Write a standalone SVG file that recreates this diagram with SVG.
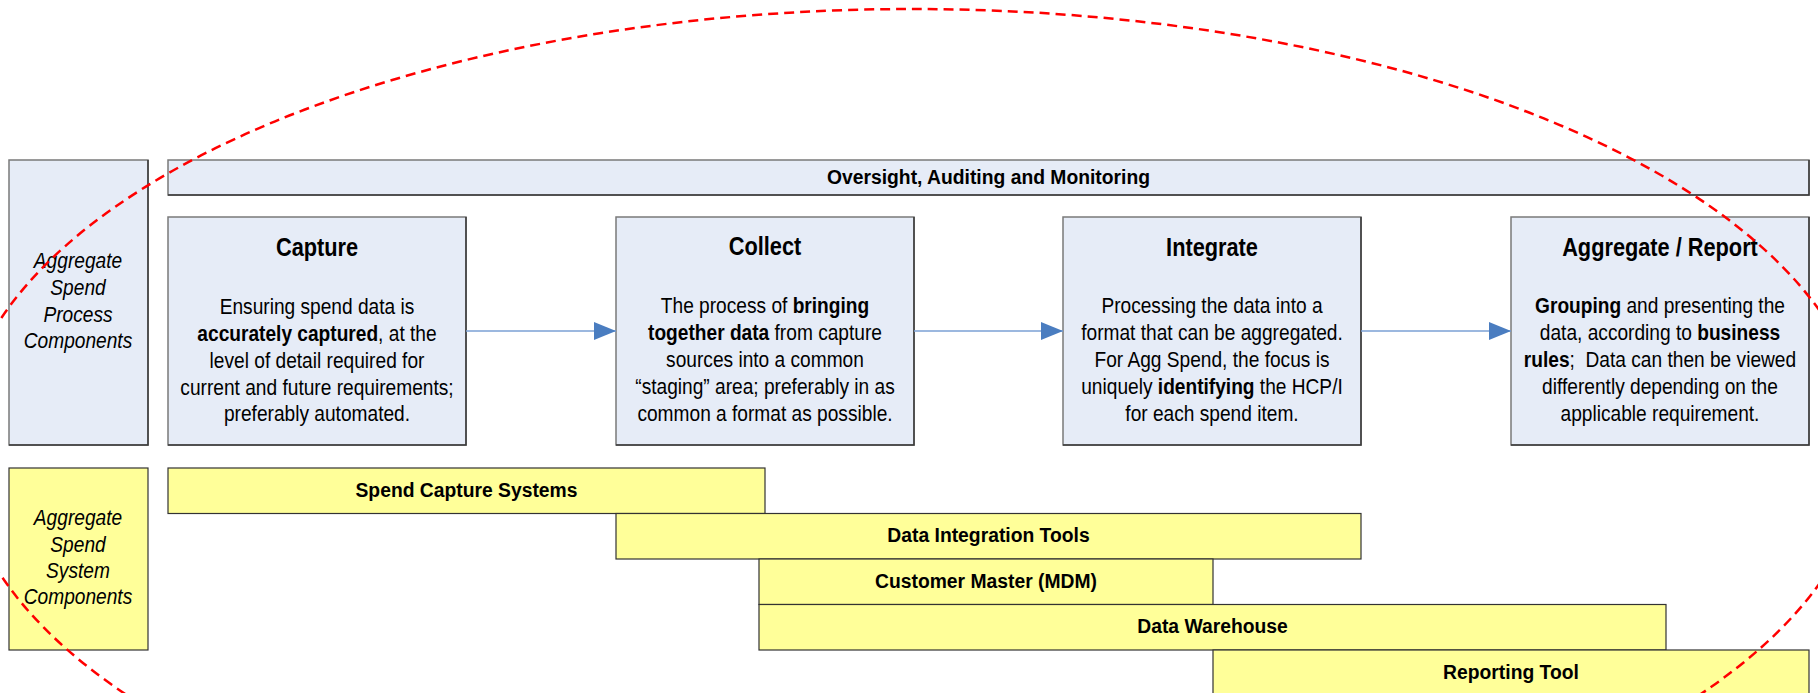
<svg xmlns="http://www.w3.org/2000/svg" width="1818" height="693" viewBox="0 0 1818 693">
<defs>
<style>
.blue{fill:#E6ECF7;stroke:#7A7A7A;stroke-width:1.5}
.edge{fill:none;stroke:#3A3A3A;stroke-width:1.5}
.yel{fill:#FFFF99;stroke:#333333;stroke-width:1.2}
text{font-family:"Liberation Sans",Arial,sans-serif;fill:#000;text-anchor:middle}
.title{font-size:25px;font-weight:bold}
.body{font-size:22px}
.lbl{font-size:22px;font-style:italic}
.bar{font-size:21px;font-weight:bold}
.b{font-weight:bold}
.conn{stroke:#7BA0D4;stroke-width:1.6;fill:none}
.ring{fill:none;stroke:#FF0000;stroke-width:2.5;stroke-dasharray:10 6}
</style>
<marker id="ah" markerWidth="22" markerHeight="18" refX="22" refY="9" orient="auto" markerUnits="userSpaceOnUse">
<path d="M0,0 L22,9 L0,18 Z" fill="#4A7DC0"/>
</marker>
</defs>
<rect width="1818" height="693" fill="#FFFFFF"/>

<g id="process-label">
<rect class="blue" x="9" y="160" width="139" height="285"/>
<path class="edge" d="M148,160 V445 H9"/>
<g transform="translate(78,0) scale(0.87,1)">
<text class="lbl" x="0" y="268">Aggregate</text>
<text class="lbl" x="0" y="295">Spend</text>
<text class="lbl" x="0" y="322">Process</text>
<text class="lbl" x="0" y="348">Components</text>
</g>
</g>

<g id="oversight">
<rect class="blue" x="168" y="160" width="1641" height="35"/>
<path class="edge" d="M1809,160 V195 H168"/>
<g transform="translate(988.5,0) scale(0.92,1)">
<text class="bar" x="0" y="184">Oversight, Auditing and Monitoring</text>
</g>
</g>

<g id="capture">
<rect class="blue" x="168" y="217" width="298" height="228"/>
<path class="edge" d="M466,217 V445 H168"/>
<g transform="translate(317,0) scale(0.87,1)">
<text class="title" x="0" y="256">Capture</text>
<text class="body" x="0" y="314">Ensuring spend data is</text>
<text class="body" x="0" y="341"><tspan class="b">accurately captured</tspan>, at the</text>
<text class="body" x="0" y="368">level of detail required for</text>
<text class="body" x="0" y="395">current and future requirements;</text>
<text class="body" x="0" y="421">preferably automated.</text>
</g>
</g>

<g id="collect">
<rect class="blue" x="616" y="217" width="298" height="228"/>
<path class="edge" d="M914,217 V445 H616"/>
<g transform="translate(765,0) scale(0.87,1)">
<text class="title" x="0" y="255">Collect</text>
<text class="body" x="0" y="313">The process of <tspan class="b">bringing</tspan></text>
<text class="body" x="0" y="340"><tspan class="b">together data</tspan> from capture</text>
<text class="body" x="0" y="367">sources into a common</text>
<text class="body" x="0" y="394">“staging” area; preferably in as</text>
<text class="body" x="0" y="421">common a format as possible.</text>
</g>
</g>

<g id="integrate">
<rect class="blue" x="1063" y="217" width="298" height="228"/>
<path class="edge" d="M1361,217 V445 H1063"/>
<g transform="translate(1212,0) scale(0.87,1)">
<text class="title" x="0" y="256">Integrate</text>
<text class="body" x="0" y="313">Processing the data into a</text>
<text class="body" x="0" y="340">format that can be aggregated.</text>
<text class="body" x="0" y="367">For Agg Spend, the focus is</text>
<text class="body" x="0" y="394">uniquely <tspan class="b">identifying</tspan> the HCP/I</text>
<text class="body" x="0" y="421">for each spend item.</text>
</g>
</g>

<g id="aggregate">
<rect class="blue" x="1511" y="217" width="298" height="228"/>
<path class="edge" d="M1809,217 V445 H1511"/>
<g transform="translate(1660,0) scale(0.87,1)">
<text class="title" x="0" y="256">Aggregate / Report</text>
<text class="body" x="0" y="313"><tspan class="b">Grouping</tspan> and presenting the</text>
<text class="body" x="0" y="340">data, according to <tspan class="b">business</tspan></text>
<text class="body" x="0" y="367"><tspan class="b">rules</tspan>;&#160; Data can then be viewed</text>
<text class="body" x="0" y="394">differently depending on the</text>
<text class="body" x="0" y="421">applicable requirement.</text>
</g>
</g>

<g id="system-label">
<rect class="yel" x="9" y="468" width="139" height="182"/>
<g transform="translate(78,0) scale(0.87,1)">
<text class="lbl" x="0" y="525">Aggregate</text>
<text class="lbl" x="0" y="552">Spend</text>
<text class="lbl" x="0" y="578">System</text>
<text class="lbl" x="0" y="604">Components</text>
</g>
</g>

<g id="spend-capture-systems">
<rect class="yel" x="168" y="468" width="597" height="45.5"/>
<g transform="translate(466.5,0) scale(0.92,1)"><text class="bar" x="0" y="497">Spend Capture Systems</text></g>
</g>
<g id="data-integration-tools">
<rect class="yel" x="616" y="513.5" width="745" height="45.5"/>
<g transform="translate(988.5,0) scale(0.92,1)"><text class="bar" x="0" y="542.5">Data Integration Tools</text></g>
</g>
<g id="customer-master">
<rect class="yel" x="759" y="559" width="454" height="45.5"/>
<g transform="translate(986,0) scale(0.92,1)"><text class="bar" x="0" y="588">Customer Master (MDM)</text></g>
</g>
<g id="data-warehouse">
<rect class="yel" x="759" y="604.5" width="907" height="45.5"/>
<g transform="translate(1212.5,0) scale(0.92,1)"><text class="bar" x="0" y="633.5">Data Warehouse</text></g>
</g>
<g id="reporting-tool">
<rect class="yel" x="1213" y="650" width="596" height="50"/>
<g transform="translate(1511,0) scale(0.92,1)"><text class="bar" x="0" y="679">Reporting Tool</text></g>
</g>

<g id="connectors">
<line class="conn" x1="466" y1="331" x2="616" y2="331" marker-end="url(#ah)"/>
<line class="conn" x1="914" y1="331" x2="1063" y2="331" marker-end="url(#ah)"/>
<line class="conn" x1="1361" y1="331" x2="1511" y2="331" marker-end="url(#ah)"/>
</g>

<g id="scope-ring">
<ellipse class="ring" cx="913" cy="447" rx="954" ry="438"/>
</g>
</svg>
